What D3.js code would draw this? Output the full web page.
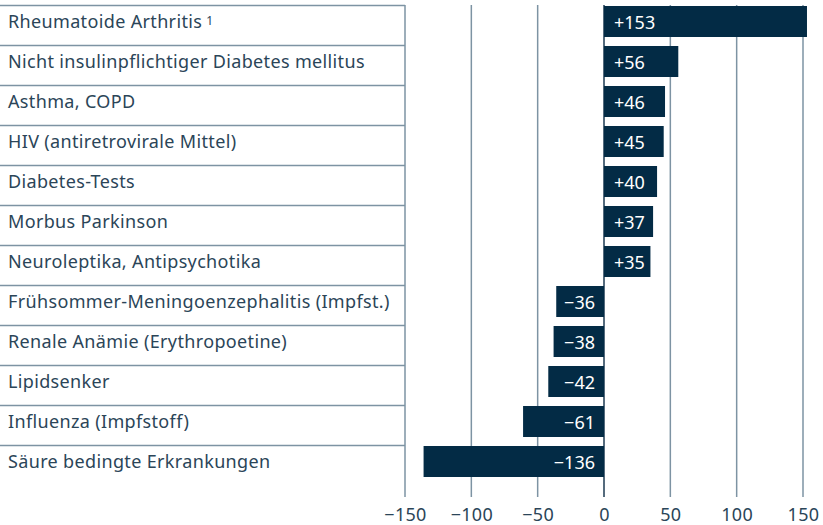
<!DOCTYPE html>
<html>
<head>
<meta charset="utf-8">
<script src="https://d3js.org/d3.v7.min.js"></script>
<style>
  body { margin: 0; background: #fff; }
  text { font-family: "Noto Sans", sans-serif; }
</style>
</head>
<body>
<div id="chart"></div>
<script>
  // data
  var categories = [
    "Rheumatoide Arthritis",
    "Nicht insulinpflichtiger Diabetes mellitus",
    "Asthma, COPD",
    "HIV (antiretrovirale Mittel)",
    "Diabetes-Tests",
    "Morbus Parkinson",
    "Neuroleptika, Antipsychotika",
    "Frühsommer-Meningoenzephalitis (Impfst.)",
    "Renale Anämie (Erythropoetine)",
    "Lipidsenker",
    "Influenza (Impfstoff)",
    "Säure bedingte Erkrankungen"
  ];
  var footnotes = ["1", "", "", "", "", "", "", "", "", "", "", ""];
  var values = [153, 56, 46, 45, 40, 37, 35, -36, -38, -42, -61, -136];
  var ticks = [-150, -100, -50, 0, 50, 100, 150];

  var width = 823, height = 525;
  var barColor = "#032b45", gridColor = "#7d93a3", textColor = "#2b4558";

  var svg = d3.select('#chart').append('svg')
    .attr('width', width)
    .attr('height', height);

  var x = d3.scaleLinear().domain([-150, 150]).range([405, 803]);
  var y = d3.scaleBand()
    .domain(d3.range(categories.length))
    .range([5, 5 + 40 * categories.length])
    .paddingInner(0);

  function fmt(v) {
    return (v > 0 ? "+" : "\u2212") + Math.abs(v);
  }

  // row separators in the label column
  svg.selectAll('line.row')
    .data(d3.range(categories.length))
    .enter().append('line')
    .attr('class', 'row')
    .attr('x1', 0).attr('x2', x(-150))
    .attr('y1', d => y(d) + 0.5).attr('y2', d => y(d) + 0.5)
    .attr('stroke', gridColor).attr('stroke-width', 1.5);

  // vertical gridlines
  svg.selectAll('line.grid')
    .data(ticks)
    .enter().append('line')
    .attr('class', 'grid')
    .attr('x1', d => x(d)).attr('x2', d => x(d))
    .attr('y1', 5).attr('y2', 497)
    .attr('stroke', d => d === 0 ? "#1c3a52" : gridColor)
    .attr('stroke-width', 1.5);

  // bars
  svg.selectAll('rect.bar')
    .data(values)
    .enter().append('rect')
    .attr('class', 'bar')
    .attr('x', d => Math.min(x(0), x(d)))
    .attr('y', (d, i) => y(i) + 1)
    .attr('width', d => Math.abs(x(d) - x(0)))
    .attr('height', 31)
    .attr('fill', barColor);

  // value labels
  svg.selectAll('text.val')
    .data(values)
    .enter().append('text')
    .attr('class', 'val')
    .attr('x', d => d > 0 ? x(0) + 10 : x(0) - 9)
    .attr('y', (d, i) => y(i) + 24)
    .attr('text-anchor', d => d > 0 ? 'start' : 'end')
    .attr('fill', '#fff')
    .attr('font-size', 18)
    .text(d => fmt(d));

  // category labels
  var lab = svg.selectAll('text.cat')
    .data(categories)
    .enter().append('text')
    .attr('class', 'cat')
    .attr('x', 8)
    .attr('y', (d, i) => y(i) + 23)
    .attr('fill', textColor)
    .attr('font-size', 18)
    .attr('letter-spacing', 0.35)
    .text(d => d);
  lab.append('tspan')
    .attr('dx', 4)
    .attr('dy', -3)
    .attr('font-size', 12)
    .text((d, i) => footnotes[i]);

  // axis
  var axis = d3.axisBottom(x)
    .tickValues(ticks)
    .tickSize(0)
    .tickPadding(0)
    .tickFormat(d => d < 0 ? "\u2212" + Math.abs(d) : d);
  var g = svg.append('g').attr('transform', 'translate(0,0)').call(axis);
  g.select('.domain').remove();
  g.selectAll('text')
    .attr('font-family', '"Noto Sans", sans-serif')
    .attr('font-size', 18)
    .attr('letter-spacing', 0.3)
    .attr('fill', textColor)
    .attr('y', 521)
    .attr('dy', 0);
</script>
</body>
</html>
